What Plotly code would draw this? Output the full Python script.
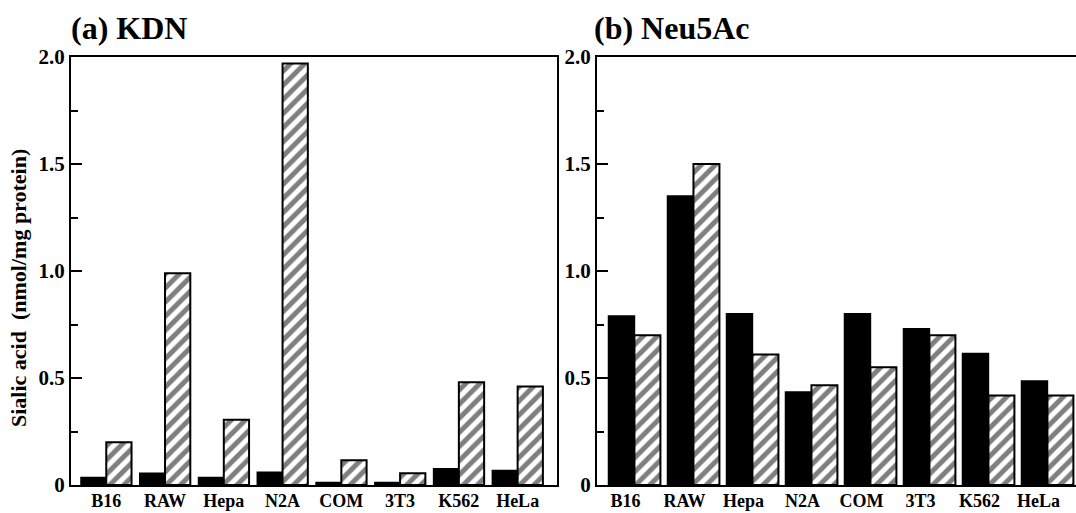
import plotly.graph_objects as go

# ---- data ----
cells = ["B16", "RAW", "Hepa", "N2A", "COM", "3T3", "K562", "HeLa"]
kdn_solid = [0.035, 0.055, 0.035, 0.06, 0.012, 0.012, 0.076, 0.068]
kdn_hatched = [0.20, 0.99, 0.305, 1.97, 0.116, 0.055, 0.48, 0.46]
neu_solid = [0.79, 1.35, 0.80, 0.435, 0.80, 0.73, 0.615, 0.486]
neu_hatched = [0.70, 1.50, 0.61, 0.466, 0.55, 0.70, 0.418, 0.418]
ytick_vals = [0, 0.5, 1.0, 1.5, 2.0]
ytick_text = ["0", "0.5", "1.0", "1.5", "2.0"]
yminor_vals = [0.25, 0.75, 1.25, 1.75]
panel_titles = ["(a) KDN", "(b) Neu5Ac"]
y_title = "Sialic acid  (nmol/mg protein)"

W, H = 1076, 513
FONT = "Liberation Serif"

def px_x(p):
    return p / W

def px_y(p):
    return (H - p) / H

fig = go.Figure()

solid_style = dict(marker=dict(color="black", line=dict(color="black", width=1.5)))
hatch_style = dict(marker=dict(color="white",
                               line=dict(color="black", width=2),
                               pattern=dict(shape="/", fgcolor="black", bgcolor="white",
                                            size=10, solidity=0.5)))

# left panel
fig.add_trace(go.Bar(x=cells, y=kdn_solid, name="solid", width=0.43, offset=-0.43,
                     xaxis="x", yaxis="y", showlegend=False, **solid_style))
fig.add_trace(go.Bar(x=cells, y=kdn_hatched, name="hatched", width=0.43, offset=0.0,
                     xaxis="x", yaxis="y", showlegend=False, **hatch_style))
# right panel
fig.add_trace(go.Bar(x=cells, y=neu_solid, name="solid", width=0.44, offset=-0.29,
                     xaxis="x2", yaxis="y2", showlegend=False, **solid_style))
fig.add_trace(go.Bar(x=cells, y=neu_hatched, name="hatched", width=0.44, offset=0.15,
                     xaxis="x2", yaxis="y2", showlegend=False, **hatch_style))

xtickfont = dict(family=FONT, size=18, color="black", weight="bold")
ytickfont = dict(family=FONT, size=21, color="black", weight="bold")

def xax(domain, rng, anchor):
    return dict(domain=domain, range=rng, anchor=anchor, type="category",
                showline=True, linecolor="black", linewidth=2, mirror=True,
                ticks="", showgrid=False, zeroline=False, tickfont=xtickfont,
                ticklabelstandoff=-2,
                automargin=False, fixedrange=True)

def yax(domain, anchor, mirror):
    return dict(domain=domain, range=[0, 2.0], anchor=anchor,
                tickmode="array", tickvals=ytick_vals, ticktext=ytick_text,
                ticks="inside", ticklen=11, tickwidth=2, tickcolor="black",
                minor=dict(tickmode="array", tickvals=yminor_vals, ticks="inside",
                           ticklen=7, tickwidth=2, tickcolor="black", showgrid=False),
                showline=True, linecolor="black", linewidth=2, mirror=mirror,
                showgrid=False, zeroline=False, tickfont=ytickfont,
                automargin=False, fixedrange=True)

ydom = [px_y(485), px_y(57)]
fig.update_layout(
    width=W, height=H,
    margin=dict(l=0, r=0, t=0, b=0, autoexpand=False),
    paper_bgcolor="white", plot_bgcolor="white",
    barmode="overlay",
    xaxis=xax([px_x(71), px_x(557)], [-0.60, 7.67], "y"),
    yaxis=yax(ydom, "x", True),
    xaxis2=xax([px_x(597), 1.0], [-0.485, 7.634], "y2"),
    yaxis2=yax(ydom, "x2", False),
    font=dict(family=FONT, color="black"),
)

fig.add_annotation(text=panel_titles[0], x=px_x(69), y=px_y(28), xref="paper", yref="paper",
                   xanchor="left", yanchor="middle", showarrow=False,
                   font=dict(family=FONT, size=32, color="black", weight="bold"))
fig.add_annotation(text=panel_titles[1], x=px_x(592), y=px_y(28), xref="paper", yref="paper",
                   xanchor="left", yanchor="middle", showarrow=False,
                   font=dict(family=FONT, size=32, color="black", weight="bold"))
fig.add_annotation(text=y_title, x=px_x(18), y=px_y(288), xref="paper", yref="paper",
                   xanchor="center", yanchor="middle", textangle=-90, showarrow=False,
                   font=dict(family=FONT, size=22, color="black", weight="bold"))

fig.write_html("out.html")
